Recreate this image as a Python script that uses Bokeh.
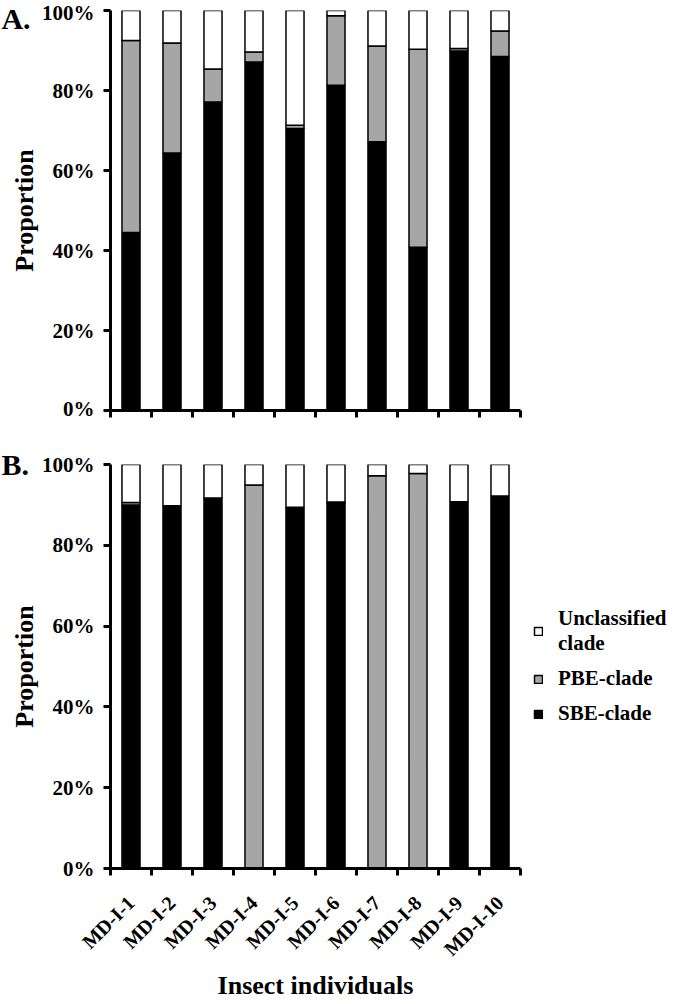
import math
from bokeh.plotting import figure
from bokeh.models import (ColumnDataSource, FixedTicker, PrintfTickFormatter, LinearAxis,
                          Range1d, Legend, LegendItem, Label)
from bokeh.layouts import column
from bokeh.embed import file_html
from bokeh.resources import INLINE

# ---------------- data ----------------
individuals = ["MD-I-1", "MD-I-2", "MD-I-3", "MD-I-4", "MD-I-5",
               "MD-I-6", "MD-I-7", "MD-I-8", "MD-I-9", "MD-I-10"]
series_labels = ["SBE-clade", "PBE-clade", "Unclassified\nclade"]
series_colors = ["#000000", "#a6a6a6", "#ffffff"]

a_sbe = [44.5, 64.4, 77.1, 87.1, 70.5, 81.3, 67.2, 40.8, 89.9, 88.5]
a_pbe = [48.0, 27.5, 8.3, 2.5, 0.8, 17.4, 23.9, 49.5, 0.6, 6.4]
a_unc = [7.5, 8.1, 14.6, 10.4, 28.7, 1.3, 8.9, 9.7, 9.5, 5.1]

b_sbe = [90.0, 89.8, 91.7, 0.0, 89.4, 90.4, 0.0, 0.0, 90.8, 92.2]
b_pbe = [0.6, 0.0, 0.0, 94.9, 0.0, 0.3, 97.2, 97.8, 0.0, 0.0]
b_unc = [9.4, 10.2, 8.3, 5.1, 10.6, 9.3, 2.8, 2.2, 9.2, 7.8]

y_ticks = [0, 20, 40, 60, 80, 100]
y_title = "Proportion"
x_title = "Insect individuals"
panel_letters = ["A.", "B."]

FONT = "Liberation Serif"


def make_panel(sbe, pbe, unc, show_labels, frame_h, b_top, b_bottom):
    n = len(individuals)
    centers = [i + 0.5 for i in range(n)]
    src = ColumnDataSource(dict(x=centers, name=individuals, sbe=sbe, pbe=pbe, unc=unc))
    p = figure(frame_width=410, frame_height=frame_h,
               x_range=Range1d(0, n), y_range=Range1d(0, 100),
               x_axis_location=None, y_axis_location=None,
               output_backend="svg", toolbar_location=None,
               min_border_left=110, min_border_right=146,
               min_border_top=b_top, min_border_bottom=b_bottom)
    p.outline_line_color = None
    for g in p.grid:
        g.visible = False
    p.background_fill_color = "white"
    p.border_fill_color = "white"

    rs = p.vbar_stack(["sbe", "pbe", "unc"], x="x", width=0.44, source=src,
                      fill_color=series_colors, line_color="black", line_width=1.5)

    yax = LinearAxis(ticker=FixedTicker(ticks=y_ticks),
                     formatter=PrintfTickFormatter(format="%d%%"),
                     axis_label=y_title)
    yax.axis_line_width = 3
    yax.major_tick_line_width = 3
    yax.major_tick_out = 7
    yax.major_tick_in = 0
    yax.minor_tick_out = 0
    yax.major_label_text_font = FONT
    yax.major_label_text_font_style = "bold"
    yax.major_label_text_font_size = "21px"
    yax.major_label_text_color = "black"
    yax.major_label_standoff = 9
    yax.axis_label_text_font = FONT
    yax.axis_label_text_font_style = "bold"
    yax.axis_label_text_font_size = "26px"
    yax.axis_label_text_color = "black"
    yax.axis_label_standoff = 0
    p.add_layout(yax, "left")

    if show_labels:
        overrides = {c: nm for c, nm in zip(centers, individuals)}
    else:
        overrides = {c: "" for c in centers}
    xax = LinearAxis(ticker=FixedTicker(ticks=centers, minor_ticks=list(range(n + 1))),
                     major_label_overrides=overrides)
    xax.axis_line_width = 3
    xax.major_tick_out = 0
    xax.major_tick_in = 0
    xax.minor_tick_out = 7
    xax.minor_tick_in = 0
    xax.minor_tick_line_width = 3
    xax.minor_tick_line_color = "black"
    xax.major_label_text_font = FONT
    xax.major_label_text_font_style = "bold"
    xax.major_label_text_color = "black"
    if show_labels:
        xax.major_label_orientation = math.pi / 4
        xax.major_label_text_font_size = "20px"
        xax.major_label_standoff = 24
        xax.axis_label = x_title
        xax.axis_label_text_font = FONT
        xax.axis_label_text_font_style = "bold"
        xax.axis_label_text_font_size = "26px"
        xax.axis_label_text_color = "black"
        xax.axis_label_standoff = 0
    else:
        xax.major_label_text_font_size = "1px"
        xax.major_label_standoff = 0
    p.add_layout(xax, "below")
    return p, rs


def letter_label(text, y):
    return Label(x=-2.66, y=y, text=text, text_font=FONT, text_font_style="bold",
                 text_font_size="30px", text_baseline="middle", text_align="left",
                 text_color="black")


pA, rsA = make_panel(a_sbe, a_pbe, a_unc, False, 400, 10, 10)
pB, rsB = make_panel(b_sbe, b_pbe, b_unc, True, 404, 44, 118)

# panel letters live in side panels so that they are not clipped to the plot frame
pA.add_layout(letter_label(panel_letters[0], 98), "right")
pB.add_layout(letter_label(panel_letters[1], 100), "above")

legend = Legend(items=[LegendItem(label=series_labels[2], renderers=[rsB[2]]),
                       LegendItem(label=series_labels[1], renderers=[rsB[1]]),
                       LegendItem(label=series_labels[0], renderers=[rsB[0]])],
                location="center_left", glyph_width=10, glyph_height=10,
                label_standoff=15, spacing=10, padding=0, margin=13,
                border_line_color=None, background_fill_alpha=0,
                label_text_font=FONT, label_text_font_style="bold",
                label_text_font_size="21px", label_text_color="black")
pB.add_layout(legend, "right")

layout = column(pA, pB)
open("out.html", "w").write(file_html(layout, INLINE))
